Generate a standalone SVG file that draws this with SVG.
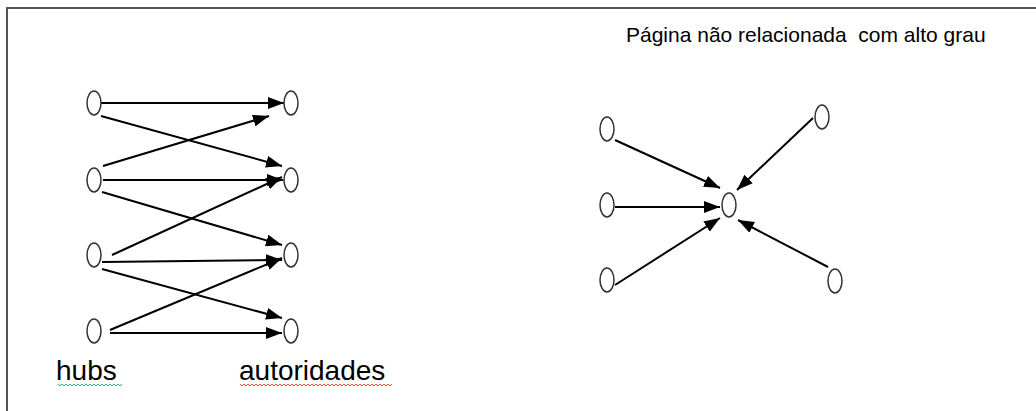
<svg xmlns="http://www.w3.org/2000/svg" width="1036" height="411" viewBox="0 0 1036 411">
<style>
.node{fill:#fff;stroke:#333;stroke-width:1.5}
.edge{stroke:#000;stroke-width:2;fill:none;marker-end:url(#ah)}
.lbl{font-family:"Liberation Sans",Arial,sans-serif;fill:#000;white-space:pre}
.sq{fill:none;stroke-width:1}
</style>
<defs>
<marker id="ah" viewBox="0 0 16 12" refX="16" refY="6" markerWidth="16" markerHeight="12" markerUnits="userSpaceOnUse" orient="auto">
<path d="M0,0 L16,6 L0,12 z" fill="#000"/>
</marker>
</defs>
<rect x="0" y="0" width="1036" height="411" fill="#fff"/>
<path d="M7,411 V8 H1036" fill="none" stroke="#555" stroke-width="2"/>
<g id="connectors">
<line class="edge" x1="101" y1="103" x2="284" y2="103"/>
<line class="edge" x1="101" y1="116" x2="282" y2="166"/>
<line class="edge" x1="103" y1="166" x2="269" y2="116"/>
<line class="edge" x1="103" y1="180" x2="283" y2="180"/>
<line class="edge" x1="102" y1="192" x2="282" y2="245"/>
<line class="edge" x1="112" y1="255" x2="282" y2="177"/>
<line class="edge" x1="102" y1="262" x2="282" y2="260"/>
<line class="edge" x1="102" y1="269" x2="282" y2="318"/>
<line class="edge" x1="110" y1="330" x2="282" y2="258"/>
<line class="edge" x1="110" y1="333" x2="282" y2="333"/>
<line class="edge" x1="615" y1="140" x2="720" y2="188"/>
<line class="edge" x1="615" y1="207" x2="720" y2="207"/>
<line class="edge" x1="615" y1="285" x2="720" y2="218"/>
<line class="edge" x1="813" y1="118" x2="737" y2="190"/>
<line class="edge" x1="828" y1="267" x2="738" y2="220"/>
</g>
<g id="hub1"><ellipse class="node" cx="94" cy="103" rx="7" ry="12"/></g>
<g id="hub2"><ellipse class="node" cx="94" cy="180" rx="7" ry="12"/></g>
<g id="hub3"><ellipse class="node" cx="94" cy="255" rx="7" ry="12"/></g>
<g id="hub4"><ellipse class="node" cx="94" cy="331" rx="7" ry="12"/></g>
<g id="auth1"><ellipse class="node" cx="291" cy="103" rx="7" ry="12"/></g>
<g id="auth2"><ellipse class="node" cx="291" cy="180" rx="7" ry="12"/></g>
<g id="auth3"><ellipse class="node" cx="291" cy="255" rx="7" ry="12"/></g>
<g id="auth4"><ellipse class="node" cx="291" cy="331" rx="7" ry="12"/></g>
<g id="r_in1"><ellipse class="node" cx="607" cy="129" rx="7" ry="12"/></g>
<g id="r_in2"><ellipse class="node" cx="607" cy="205" rx="7" ry="12"/></g>
<g id="r_in3"><ellipse class="node" cx="607" cy="280" rx="7" ry="12"/></g>
<g id="r_center"><ellipse class="node" cx="729" cy="205" rx="7" ry="12"/></g>
<g id="r_in4"><ellipse class="node" cx="822" cy="117" rx="7" ry="12"/></g>
<g id="r_in5"><ellipse class="node" cx="835" cy="281" rx="7" ry="12"/></g>
<g id="labels">
<text class="lbl" x="626" y="42" font-size="21" xml:space="preserve">Página não relacionada  com alto grau</text>
<text class="lbl" x="56" y="380" font-size="28">hubs</text>
<text class="lbl" x="239" y="380" font-size="28">autoridades</text>
<path class="sq" stroke="#3cb371" d="M58,384 l2,2 l2,-2 l2,2 l2,-2 l2,2 l2,-2 l2,2 l2,-2 l2,2 l2,-2 l2,2 l2,-2 l2,2 l2,-2 l2,2 l2,-2 l2,2 l2,-2 l2,2 l2,-2 l2,2 l2,-2 l2,2 l2,-2 l2,2 l2,-2 l2,2 l2,-2 l2,2 l2,-2 l2,2 l2,-2"/>
<path class="sq" stroke="#f04040" d="M240,384 l2,2 l2,-2 l2,2 l2,-2 l2,2 l2,-2 l2,2 l2,-2 l2,2 l2,-2 l2,2 l2,-2 l2,2 l2,-2 l2,2 l2,-2 l2,2 l2,-2 l2,2 l2,-2 l2,2 l2,-2 l2,2 l2,-2 l2,2 l2,-2 l2,2 l2,-2 l2,2 l2,-2 l2,2 l2,-2 l2,2 l2,-2 l2,2 l2,-2 l2,2 l2,-2 l2,2 l2,-2 l2,2 l2,-2 l2,2 l2,-2 l2,2 l2,-2 l2,2 l2,-2 l2,2 l2,-2 l2,2 l2,-2 l2,2 l2,-2 l2,2 l2,-2 l2,2 l2,-2 l2,2 l2,-2 l2,2 l2,-2 l2,2 l2,-2 l2,2 l2,-2 l2,2 l2,-2 l2,2 l2,-2 l2,2 l2,-2 l2,2 l2,-2 l2,2 l2,-2"/>
</g>
</svg>
